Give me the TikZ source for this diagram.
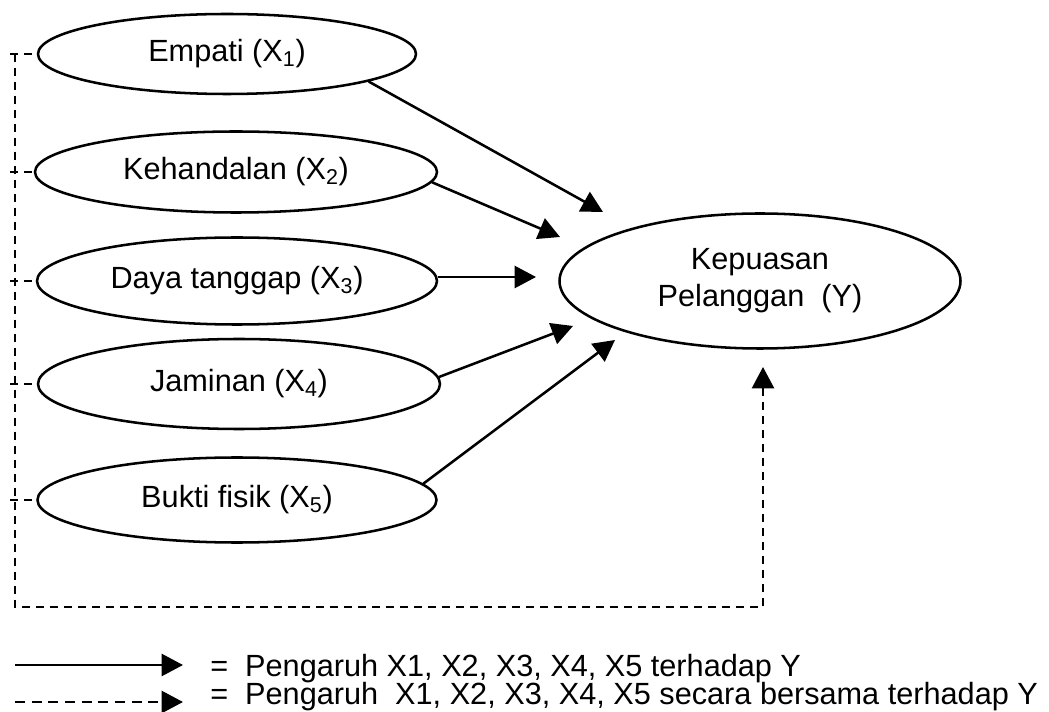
\documentclass[tikz,border=0pt]{standalone}
\usepackage{fontspec}
\setmainfont{Liberation Sans}
\usetikzlibrary{shapes.geometric,arrows.meta}
\tikzset{
  var/.style={ellipse,draw,line width=1.9pt,inner sep=0pt,font=\fontsize{23}{27.75}\selectfont,align=center},
  arr/.style={line width=1.9pt,-{Triangle[length=16pt,width=16.5pt]}},
  darr/.style={line width=1.9pt,dash pattern=on 6pt off 4.5pt,-{Triangle[length=16pt,width=16.5pt]}},
  dline/.style={line width=1.9pt,dash pattern=on 6pt off 4.5pt},
  legtext/.style={anchor=base west,inner sep=0pt,font=\fontsize{23}{27}\selectfont}
}
\begin{document}
\begin{tikzpicture}[x=0.75pt,y=-0.75pt]
\useasboundingbox (0,0) rectangle (1049,712);
\node[var,minimum width=283.5pt,minimum height=60pt] (e1) at (227,54) {Empati (X\textsubscript{1})};
\node[var,minimum width=301.5pt,minimum height=60.75pt] (e2) at (236,172) {Kehandalan (X\textsubscript{2})};
\node[var,minimum width=300pt,minimum height=65.25pt] (e3) at (237,281) {Daya tanggap (X\textsubscript{3})};
\node[var,minimum width=301.5pt,minimum height=67.5pt] (e4) at (239,384) {Jaminan (X\textsubscript{4})};
\node[var,minimum width=299.25pt,minimum height=63.75pt] (e5) at (237,500) {Bukti fisik (X\textsubscript{5})};
\node[var,minimum width=300.75pt,minimum height=101.25pt] (y) at (760,281) {Kepuasan\\Pelanggan\ \ (Y)};
% tips
\coordinate (t1) at (603,212);
\coordinate (t2) at (560,237);
\coordinate (t3) at (536,277);
\coordinate (t4) at (573,326);
\coordinate (t5) at (615,340);
\coordinate (ty) at (763,367);
\draw[arr] (e1.-11) -- (t1);
\draw[arr] (e2.-3) -- (t2);
\draw[arr] (e3.east |- t3) -- (t3);
\draw[arr] (e4.2) -- (t4);
\draw[arr] (e5.5) -- (t5);
% dashed frame
\coordinate (tl) at (15,54);
\coordinate (br) at (763,607);
\draw[darr] (tl) |- (br) -- (ty);
\foreach \e in {e1,e2,e3,e4,e5}{
  \draw[dline] (10,0 |- \e.west) -- (\e.west);
}
% legend
\coordinate (l1a) at (15,665);
\coordinate (l1b) at (183,665);
\coordinate (l2a) at (15,702);
\coordinate (l2b) at (183,702);
\draw[arr] (l1a) -- (l1b);
\draw[darr,dash pattern=on 7.5pt off 5pt] (l2a) -- (l2b);
\node[legtext] (lg1) at (210,676) {=\ \ Pengaruh X1, X2, X3, X4, X5 terhadap Y};
\node[legtext] (lg2) at (210,704) {=\ \ Pengaruh\ \ X1, X2, X3, X4, X5 secara bersama terhadap Y};
\end{tikzpicture}
\end{document}
